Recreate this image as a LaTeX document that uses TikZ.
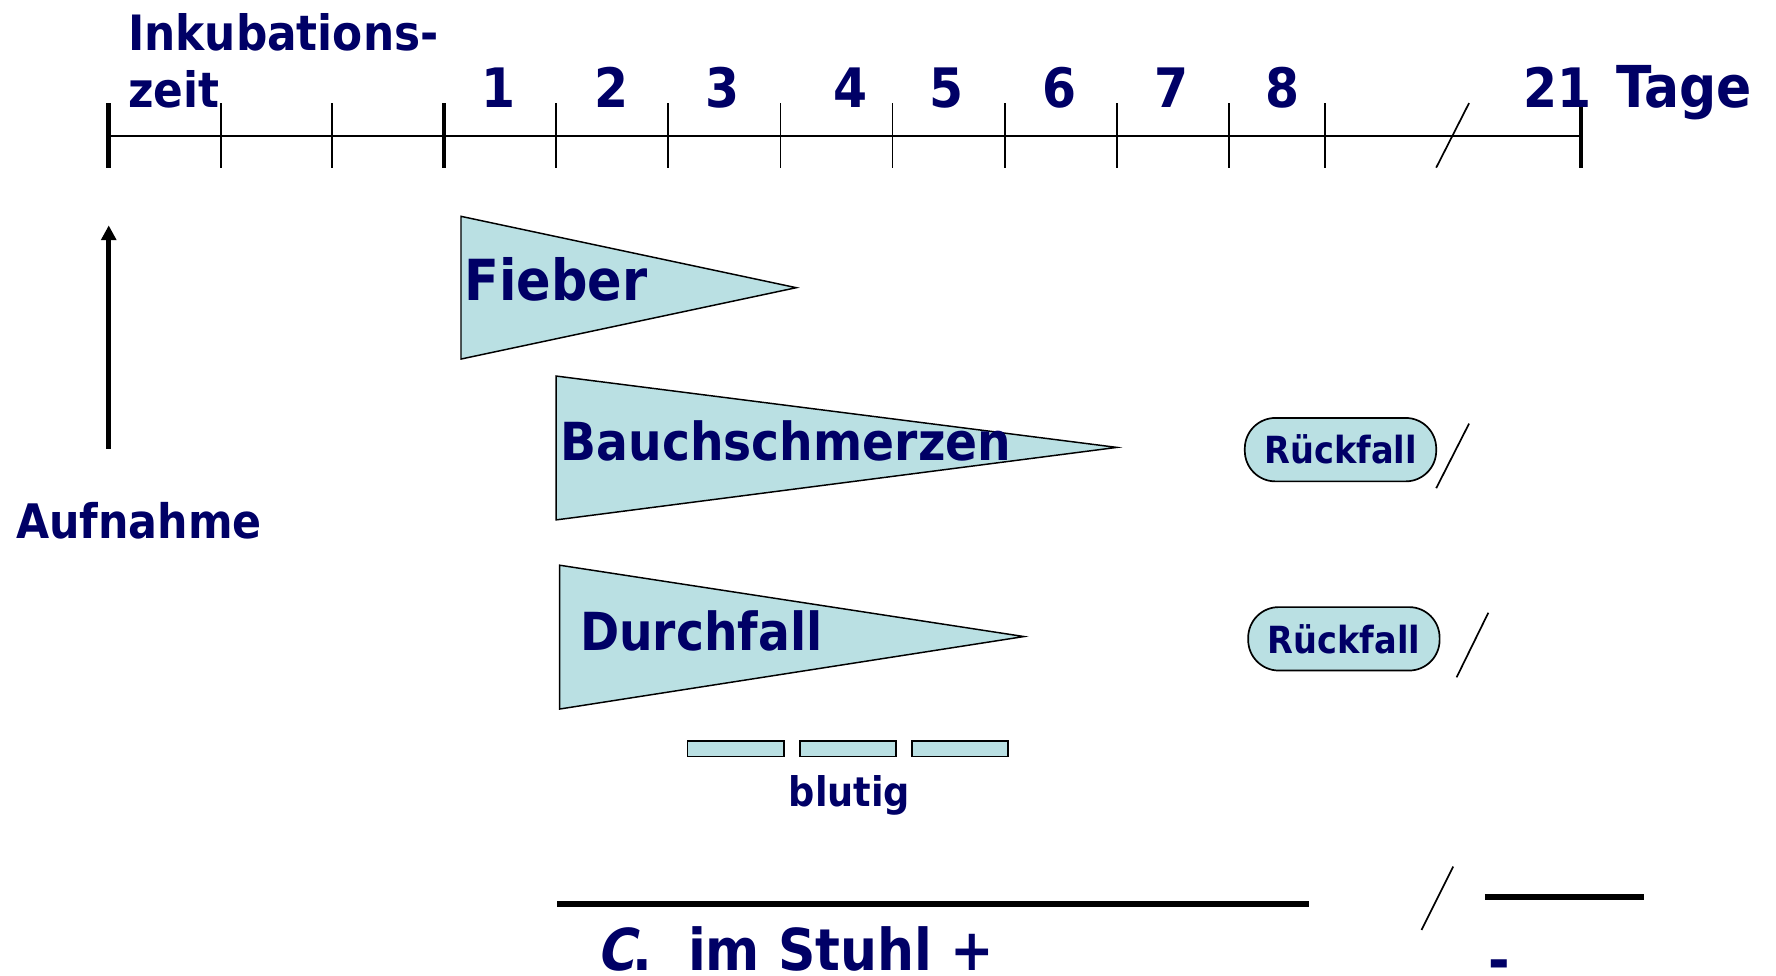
\documentclass[tikz,border=0pt]{standalone}
\usepackage{fontspec}
\setmainfont{DejaVu Sans Condensed}[BoldFont={DejaVu Sans Condensed Bold}]
\newfontfamily\slfont{DejaVu Sans Condensed Bold}[FakeSlant=0.22]
\usetikzlibrary{arrows.meta}
\definecolor{txt}{RGB}{0,0,102}
\definecolor{tfill}{RGB}{186,224,227}
\tikzset{
  lbl/.style={inner sep=0pt, anchor=base west, text=txt, font=\bfseries},
  tri/.style={draw=black, line width=1.3pt, fill=tfill, line join=miter},
  pill/.style={draw=black, line width=1.5pt, fill=tfill, rounded corners=27pt},
  thin/.style={line width=1.5pt},
  thick tick/.style={line width=4pt},
}
\newcommand{\fs}[1]{\fontsize{#1}{#1}\selectfont}
\begin{document}
\begin{tikzpicture}[x=1pt,y=-1pt]
\useasboundingbox (0,0) rectangle (1568,861);
% axis
\coordinate (ax0) at (96,120);
\coordinate (ax1) at (1396,120);
\draw[thin] (ax0) -- (ax1);
\foreach \x in {96,392,1396} \draw[thick tick] (\x,91) -- (\x,148);
\foreach \x in {195,293,491,590,689,788,887,986,1085,1170} \draw[thin] (\x,91) -- (\x,148);
\draw[thin] (1268,148) -- (1297,91);
% axis labels
\node[lbl, font=\bfseries\fs{43}] (ink) at (113,45) {Inkubations-};
\node[lbl, font=\bfseries\fs{43}] (zeit) at (113,95) {zeit};
\foreach \n/\x in {1/440,2/540,3/638,4/751,5/836,6/935,7/1034,8/1132}
  \node[inner sep=0pt, anchor=base, text=txt, font=\bfseries\fs{48}] (d\n) at (\x,95) {\n};
\node[inner sep=0pt, anchor=base east, text=txt, font=\bfseries\fs{48}] (d21) at (1405,95) {21};
\node[lbl, font=\bfseries\fs{51}] (tage) at (1427,95) {Tage};
% Aufnahme arrow
\coordinate (arrS) at (96,396);
\coordinate (arrT) at (96,199);
\draw[line width=4pt, -{Triangle[width=13pt,length=13pt]}] (arrS) -- (arrT);
\node[lbl, font=\bfseries\fs{42}] (aufn) at (14,475) {Aufnahme};
% triangles
\draw[tri] (407,191) -- (703,254) -- (407,317) -- cycle;
\node[lbl, font=\bfseries\fs{50}] (fieber) at (410,265) {Fieber};
\draw[tri] (491,332) -- (986,395) -- (491,459) -- cycle;
\node[lbl, font=\bfseries\fs{46.3}] (bauch) at (495,407) {Bauchschmerzen};
\draw[tri] (494,499) -- (904,562) -- (494,626) -- cycle;
\node[lbl, font=\bfseries\fs{46.3}] (durch) at (512,574) {Durchfall};
% Rueckfall
\node[pill, minimum width=169pt, minimum height=56pt, inner sep=0pt, text=txt, font=\bfseries\fs{33}] (r1) at (1183.5,397) {Rückfall};
\draw[thin] (1268,431) -- (1297,374);
\node[pill, minimum width=169pt, minimum height=56pt, inner sep=0pt, text=txt, font=\bfseries\fs{33}] (r2) at (1186.5,564) {Rückfall};
\draw[thin] (1286,598) -- (1314,541);
% blutig
\foreach \x in {607,706,805} \draw[line width=1.5pt, fill=tfill] (\x,654) rectangle (\x+85,668);
\node[inner sep=0pt, anchor=base, text=txt, font=\bfseries\fs{36}] (blut) at (750,712) {blutig};
% bottom
\coordinate (b0) at (492,798);
\coordinate (b1) at (1156,798);
\draw[line width=5pt] (b0) -- (b1);
\draw[thin] (1255,821) -- (1283,765);
\coordinate (c0) at (1311,792);
\coordinate (c1) at (1451,792);
\draw[line width=5pt] (c0) -- (c1);
\node[lbl, font=\slfont\fs{51}] (cdot) at (526,857) {C};
\node[lbl, font=\bfseries\fs{51}] (stuhl) at (558,857) {.\ \ im Stuhl +};
\node[lbl, font=\bfseries\fs{51}] (minus) at (1314,866) {-};
\end{tikzpicture}
\end{document}
